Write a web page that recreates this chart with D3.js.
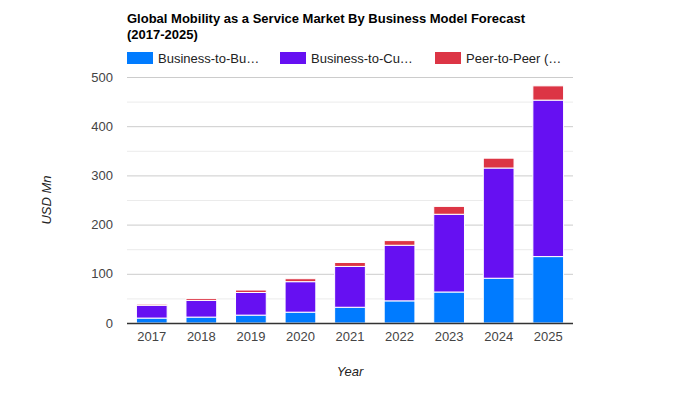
<!DOCTYPE html>
<html>
<head>
<meta charset="utf-8">
<script src="https://cdn.jsdelivr.net/npm/d3@7"></script>
<style>
  html, body { margin: 0; padding: 0; background: #fff; }
  svg { display: block; font-family: Arial, "Liberation Sans", sans-serif; }
</style>
</head>
<body>
<svg id="chart" width="700" height="400"></svg>
<script>
const years = ["2017","2018","2019","2020","2021","2022","2023","2024","2025"];
const seriesNames = ["Business-to-Business", "Business-to-Customer", "Peer-to-Peer (P2P)"];
const legendLabels = ["Business-to-Bu\u2026", "Business-to-Cu\u2026", "Peer-to-Peer (\u2026"];
const b2b = [10, 12, 16, 22, 32, 45, 63, 91, 135];
const b2c = [26, 34, 46, 62, 83, 113, 158, 224, 318];
const p2p = [2.5, 4, 5, 6, 8, 9.5, 16, 20, 29];
const colors = ["#007bff", "#6610f2", "#dc3545"];
const yTicks = [0, 100, 200, 300, 400, 500];
const yMinorTicks = [50, 150, 250, 350, 450];
const titleLines = ["Global Mobility as a Service Market By Business Model Forecast", "(2017-2025)"];

const svg = d3.select("#chart");
const plotLeft = 127, plotRight = 573, plotTop = 77, plotBottom = 323;

const x = d3.scaleBand().domain(years).range([plotLeft, plotRight]).paddingInner(0.38).paddingOuter(0.19);
const y = d3.scaleLinear().domain([0, 500]).range([plotBottom, plotTop]);

// Title
svg.append("text").attr("x", 127).attr("y", 23)
  .attr("font-size", 13).attr("font-weight", "bold").attr("fill", "#000")
  .selectAll("tspan").data(titleLines).join("tspan")
  .attr("x", 127).attr("dy", (d, i) => i === 0 ? 0 : 16).text(d => d);

// Legend
const legendX = [127, 280, 435];
const lg = svg.append("g").selectAll("g").data(legendLabels).join("g")
  .attr("transform", (d, i) => `translate(${legendX[i]},52)`);
lg.append("rect").attr("width", 26).attr("height", 12).attr("fill", (d, i) => colors[i]);
lg.append("text").attr("x", 31).attr("y", 10.5).attr("font-size", 13).attr("fill", "#222").text(d => d);

// Gridlines
svg.append("g").selectAll("line").data(yMinorTicks).join("line")
  .attr("x1", plotLeft).attr("x2", plotRight).attr("y1", d => y(d) + 0.5).attr("y2", d => y(d) + 0.5)
  .attr("stroke", "#ebebeb").attr("stroke-width", 1);
svg.append("g").selectAll("line").data(yTicks.filter(d => d > 0)).join("line")
  .attr("x1", plotLeft).attr("x2", plotRight).attr("y1", d => y(d) + 0.5).attr("y2", d => y(d) + 0.5)
  .attr("stroke", "#cccccc").attr("stroke-width", 1);

// Y axis labels
const yAxis = d3.axisLeft(y).tickValues(yTicks).tickSize(0).tickPadding(14);
const ya = svg.append("g").attr("transform", `translate(${plotLeft},0)`).call(yAxis);
ya.select(".domain").remove();
ya.selectAll("text").attr("font-size", 13).attr("fill", "#444")
  .attr("font-family", "Arial, 'Liberation Sans', sans-serif");

// Stacked bars
const rows = years.map((yr, i) => ({ year: yr, b2b: b2b[i], b2c: b2c[i], p2p: p2p[i] }));
const stack = d3.stack().keys(["b2b", "b2c", "p2p"])(rows);
svg.append("g").selectAll("g").data(stack).join("g")
  .attr("fill", (d, i) => colors[i])
  .selectAll("rect").data(d => d).join("rect")
  .attr("x", d => x(d.data.year))
  .attr("width", x.bandwidth())
  .attr("y", d => y(d[1]))
  .attr("height", d => Math.max(0, y(d[0]) - y(d[1])))
  .attr("stroke", "#fff").attr("stroke-width", 1);

// X axis
const xAxis = d3.axisBottom(x).tickSize(0).tickPadding(9);
const xa = svg.append("g").attr("transform", `translate(0,${plotBottom})`).call(xAxis);
xa.select(".domain").remove();
xa.selectAll("text").attr("font-size", 13).attr("fill", "#444")
  .attr("font-family", "Arial, 'Liberation Sans', sans-serif");

// Baseline
svg.append("line").attr("x1", plotLeft).attr("x2", plotRight).attr("y1", plotBottom + 0.5).attr("y2", plotBottom + 0.5)
  .attr("stroke", "#333").attr("stroke-width", 1.5);

// Axis titles
svg.append("text").attr("x", 350).attr("y", 376).attr("text-anchor", "middle")
  .attr("font-size", 13).attr("font-style", "italic").attr("fill", "#222").text("Year");
svg.append("text").attr("transform", "translate(51,200) rotate(-90)").attr("text-anchor", "middle")
  .attr("font-size", 13).attr("font-style", "italic").attr("fill", "#222").text("USD Mn");
</script>
</body>
</html>
